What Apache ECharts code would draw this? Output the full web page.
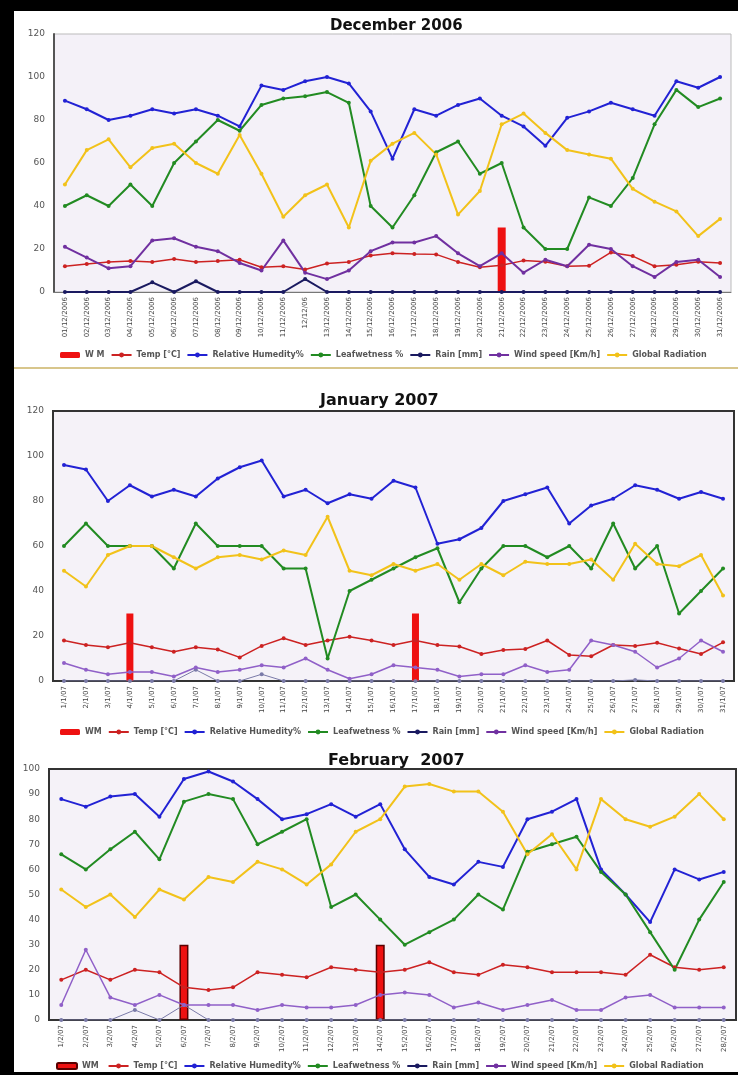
<!DOCTYPE html>
<html>
<head>
<meta charset="utf-8">
<script src="https://cdn.jsdelivr.net/npm/echarts@6/dist/echarts.min.js"></script>
<style>
  html, body { margin: 0; padding: 0; background: #fff; }
  #chart { position: absolute; left: 0; top: 0; width: 738px; height: 1075px; }
  .frame { position: absolute; background: #000; }
</style>
</head>
<body>
<div id="chart"></div>
<div class="frame" style="left:0;top:0;width:738px;height:11px"></div>
<div class="frame" style="left:0;top:0;width:14px;height:1075px"></div>
<div class="frame" style="left:0;top:1072px;width:738px;height:3px"></div>
<div style="position:absolute;left:14px;top:367px;width:724px;height:2px;background:#d8c68c"></div>
<script>
// ---- December 2006 ----
var decDays = ['01/12/2006','02/12/2006','03/12/2006','04/12/2006','05/12/2006','06/12/2006','07/12/2006','08/12/2006',
  '09/12/2006','10/12/2006','11/12/2006','12/12/06','13/12/2006','14/12/2006','15/12/2006','16/12/2006','17/12/2006',
  '18/12/2006','19/12/2006','20/12/2006','21/12/2006','22/12/2006','23/12/2006','24/12/2006','25/12/2006','26/12/2006',
  '27/12/2006','28/12/2006','29/12/2006','30/12/2006','31/12/2006'];
var decWM   = ['-','-','-','-','-','-','-','-','-','-','-','-','-','-','-','-','-','-','-','-',30,'-','-','-','-','-','-','-','-','-','-'];
var decTemp = [12,13,14,14.4,14,15.3,14,14.4,15,11.5,12,10.5,13.3,14,17,18,17.7,17.5,14,11.5,12.4,14.6,14.1,12,12.2,18.4,16.7,12,12.7,14.1,13.5];
var decRH   = [89,85,80,82,85,83,85,82,77,96,94,98,100,97,84,62,85,82,87,90,82,77,68,81,84,88,85,82,98,95,100];
var decLeaf = [40,45,40,50,40,60,70,80,75,87,90,91,93,88,40,30,45,65,70,55,60,30,20,20,44,40,53,78,94,86,90];
var decRain = [0,0,0,0,4.5,0,5,0,0,0,0,6,0,0,0,0,0,0,0,0,0,0,0,0,0,0,0,0,0,0,0];
var decWind = [21,16,11,12,24,25,21,19,13.5,10,24,9,6,10,19,23,23,26,18,12,18,9,15,12,22,20,12,7,14,15,7];
var decGR   = [50,66,71,58,67,69,60,55,73,55,35,45,50,30,61,69,74,64,36,47,78,83,74,66,64,62,48,42,37.5,26,34];

// ---- January 2007 ----
var janDays = ['1/1/07','2/1/07','3/1/07','4/1/07','5/1/07','6/1/07','7/1/07','8/1/07','9/1/07','10/1/07','11/1/07',
  '12/1/07','13/1/07','14/1/07','15/1/07','16/1/07','17/1/07','18/1/07','19/1/07','20/1/07','21/1/07','22/1/07',
  '23/1/07','24/1/07','25/1/07','26/1/07','27/1/07','28/1/07','29/1/07','30/1/07','31/1/07'];
var janWM   = ['-','-','-',30,'-','-','-','-','-','-','-','-','-','-','-','-',30,'-','-','-','-','-','-','-','-','-','-','-','-','-','-'];
var janTemp = [18,16,15,17,15,13,15,14,10.5,15.6,19,16,18,19.7,18,16,18,16,15.3,12,13.8,14.2,18,11.6,11,16,15.6,17,14.4,12,17.2];
var janRH   = [96,94,80,87,82,85,82,90,95,98,82,85,79,83,81,89,86,61,63,68,80,83,86,70,78,81,87,85,81,84,81];
var janLeaf = [60,70,60,60,60,50,70,60,60,60,50,50,10,40,45,50,55,59,35,50,60,60,55,60,50,70,50,60,30,40,50];
var janRain = [0,0,0,0,0,0,5,0,0,3,0,0,0,0,0,0,0,0,0,0,0,0,0,0,0,0,0.5,0,0,0,0];
var janWind = [8,5,3,4,4,2,6,4,5,7,6,10,5,1,3,7,6,5,2,3,3,7,4,5,18,16,13,6,10,18,13];
var janGR   = [49,42,56,60,60,55,50,55,56,54,58,56,73,49,47,52,49,52,45,52,47,53,52,52,54,45,61,52,51,56,38];

// ---- February 2007 ----
var febDays = ['1/2/07','2/2/07','3/2/07','4/2/07','5/2/07','6/2/07','7/2/07','8/2/07','9/2/07','10/2/07','11/2/07',
  '12/2/07','13/2/07','14/2/07','15/2/07','16/2/07','17/2/07','18/2/07','19/2/07','20/2/07','21/2/07','22/2/07',
  '23/2/07','24/2/07','25/2/07','26/2/07','27/2/07','28/2/07'];
var febWM   = ['-','-','-','-','-',30,'-','-','-','-','-','-','-',30,'-','-','-','-','-','-','-','-','-','-','-','-','-','-'];
var febTemp = [16,20,16,20,19,13,12,13,19,18,17,21,20,19,20,23,19,18,22,21,19,19,19,18,26,21,20,21];
var febRH   = [88,85,89,90,81,96,99,95,88,80,82,86,81,86,68,57,54,63,61,80,83,88,60,50,39,60,56,59];
var febLeaf = [66,60,68,75,64,87,90,88,70,75,80,45,50,40,30,35,40,50,44,67,70,73,59,50,35,20,40,55];
var febRain = [0,0,0,4,0,6,0,0,0,0,0,0,0,0,0,0,0,0,0,0,0,0,0,0,0,0,0,0];
var febWind = [6,28,9,6,10,6,6,6,4,6,5,5,6,10,11,10,5,7,4,6,8,4,4,9,10,5,5,5];
var febGR   = [52,45,50,41,52,48,57,55,63,60,54,62,75,80,93,94,91,91,83,66,74,60,88,80,77,81,90,80];

var FONT = 'DejaVu Sans';
var names = ['Temp [°C]', 'Relative Humedity%', 'Leafwetness %', 'Rain [mm]', 'Wind speed [Km/h]', 'Global Radiation'];

function lineSeries(idx, name, data, color, width) {
  return {
    name: name, type: 'line', xAxisIndex: idx, yAxisIndex: idx, data: data,
    symbol: 'circle', symbolSize: 4, animation: false,
    lineStyle: { color: color, width: width },
    itemStyle: { color: color }
  };
}

function panel(idx, wmName, wm, temp, rh, leaf, rain, wind, gr, rainColor, windColor, barWidth, barBorder) {
  return [
    {
      name: wmName, type: 'bar', xAxisIndex: idx, yAxisIndex: idx, data: wm, barWidth: barWidth,
      animation: false,
      itemStyle: { color: '#ee1111', borderColor: barBorder || '#ee1111', borderWidth: barBorder ? 1.5 : 0 }
    },
    lineSeries(idx, names[0], temp, '#cc2222', 1.5),
    lineSeries(idx, names[1], rh, '#2222d4', 2),
    lineSeries(idx, names[2], leaf, '#228b22', 2),
    lineSeries(idx, names[3], rain, rainColor, idx === 0 ? 2 : 1),
    lineSeries(idx, names[4], wind, windColor, idx === 0 ? 2 : 1.5),
    lineSeries(idx, names[5], gr, '#f2c21a', 2)
  ];
}

function xAxis(idx, days) {
  return {
    type: 'category', gridIndex: idx, data: days, boundaryGap: true,
    axisLine: { lineStyle: { color: idx === 0 ? '#777' : '#333', width: idx === 0 ? 1 : 2 } },
    axisTick: { show: false },
    axisLabel: { interval: 0, rotate: 90, fontSize: 7, color: '#444', fontFamily: FONT, margin: 5 }
  };
}

function yAxis(idx, max, step) {
  return {
    type: 'value', gridIndex: idx, min: 0, max: max, interval: step,
    axisLine: { show: true, lineStyle: { color: idx === 0 ? '#555' : '#333', width: 2 } },
    axisTick: { show: false },
    splitLine: { show: false },
    axisLabel: { fontSize: 9, color: '#555', fontFamily: FONT, margin: 9 }
  };
}

function legend(top, left, wmName) {
  return {
    top: top, left: left, itemWidth: 20, itemHeight: 6, itemGap: 6, padding: 0,
    textStyle: { fontSize: 8, fontWeight: 'bold', color: '#555', fontFamily: FONT },
    data: [wmName].concat(names)
  };
}

var chart = echarts.init(document.getElementById('chart'));
chart.setOption({
  backgroundColor: 'transparent',
  animation: false,
  title: [
    { text: 'December 2006', left: 330, top: 19, padding: 0, textStyle: { fontSize: 15, fontWeight: 900, color: '#111', fontFamily: FONT } },
    { text: 'January 2007', left: 320, top: 393, padding: 0, textStyle: { fontSize: 16, fontWeight: 'bold', color: '#111', fontFamily: FONT } },
    { text: 'February  2007', left: 328, top: 753, padding: 0, textStyle: { fontSize: 16, fontWeight: 'bold', color: '#111', fontFamily: FONT } }
  ],
  legend: [
    legend(351, 60, 'W M'),
    legend(728, 60, 'WM'),
    legend(1062, 56, 'WM ')
  ],
  grid: [
    { left: 54, top: 34, right: 7, height: 258, show: true, backgroundColor: '#f4f1f8', borderColor: '#bbb', borderWidth: 1 },
    { left: 53, top: 411, right: 4, height: 270, show: true, backgroundColor: '#f5f2f8', borderColor: '#333', borderWidth: 2 },
    { left: 49, top: 769, right: 2, height: 251, show: true, backgroundColor: '#f5f2f8', borderColor: '#333', borderWidth: 2 }
  ],
  xAxis: [xAxis(0, decDays), xAxis(1, janDays), xAxis(2, febDays)],
  yAxis: [yAxis(0, 120, 20), yAxis(1, 120, 20), yAxis(2, 100, 10)],
  series: []
    .concat(panel(0, 'W M', decWM, decTemp, decRH, decLeaf, decRain, decWind, decGR, '#1a1a60', '#7030a0', 8))
    .concat(panel(1, 'WM', janWM, janTemp, janRH, janLeaf, janRain, janWind, janGR, '#7a7aa8', '#9060c8', 7))
    .concat(panel(2, 'WM ', febWM, febTemp, febRH, febLeaf, febRain, febWind, febGR, '#7a7aa8', '#9060c8', 9, '#5a0000'))
});
</script>
</body>
</html>
